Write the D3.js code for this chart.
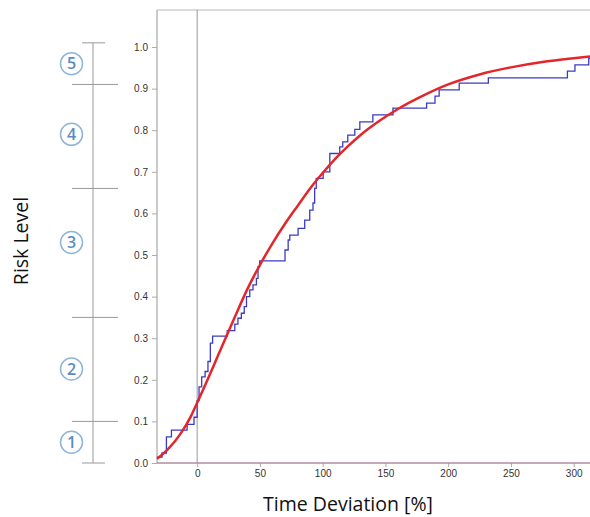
<!DOCTYPE html>
<html><head><meta charset="utf-8">
<script src="https://cdn.jsdelivr.net/npm/d3@7"></script>
<style>body{margin:0;background:#fff}svg{display:block}</style>
</head><body>
<svg id="c" width="590" height="517"></svg>
<script>
// Fitted curve (red)
const fitX = [-32,-24,-14,-5,0,5,10,15,20,30,40,50,60,70,80,90,100,110,120,130,145,160,180,200,225,250,275,300,313];
const fitY = [0.01,0.031,0.067,0.112,0.145,0.178,0.212,0.247,0.282,0.351,0.418,0.476,0.528,0.575,0.618,0.66,0.697,0.731,0.761,0.788,0.822,0.851,0.883,0.91,0.934,0.951,0.964,0.973,0.977];
// Empirical step function (blue)
const stepX = [-32,-28,-24.5,-20.5,-8,-2.5,0,1.5,3.6,6.3,8.6,10.5,12.3,24,30,32.5,35.2,37.5,39.3,41.9,44.5,47.2,48.5,49.8,70,72.5,73.8,80.4,85.7,89.7,92.3,93.6,94.9,100.4,105.7,113.6,116,120,125.6,129.6,140,156,182.8,189.5,192.8,208.8,232,295,301,312,320];
const stepY = [0.014,0.024,0.063,0.079,0.093,0.11,0.15,0.183,0.207,0.22,0.244,0.288,0.305,0.318,0.334,0.348,0.36,0.376,0.40,0.416,0.428,0.444,0.472,0.486,0.512,0.536,0.548,0.564,0.584,0.608,0.625,0.66,0.684,0.70,0.744,0.76,0.772,0.788,0.802,0.82,0.837,0.853,0.865,0.882,0.897,0.913,0.926,0.942,0.957,0.973,0.973];
const xTicks = [0,50,100,150,200,250,300];
const yTicks = [0,0.1,0.2,0.3,0.4,0.5,0.6,0.7,0.8,0.9,1.0];
// Risk level bracket
const levelBounds = [0.0,0.10,0.35,0.66,0.91,1.01];
const levelLabels = ["1","2","3","4","5"];
const levelCenters = [0.05,0.226,0.53,0.79,0.96];

const svg = d3.select("#c");
const x = d3.scaleLinear().domain([-32,313]).range([157,590]);
const y = d3.scaleLinear().domain([0,1]).range([463,47]);
const plotTop = 10, plotBottom = 463, plotLeft = 157;

// frame
svg.append("line").attr("x1",plotLeft).attr("x2",590).attr("y1",plotTop).attr("y2",plotTop).attr("stroke","#b8b8b8").attr("stroke-width",1.2);
svg.append("line").attr("x1",plotLeft).attr("x2",plotLeft).attr("y1",plotTop).attr("y2",plotBottom).attr("stroke","#b8b8b8").attr("stroke-width",1.5);

// y axis
const ya = svg.append("g").attr("transform",`translate(${plotLeft},0)`)
  .call(d3.axisLeft(y).tickValues(yTicks).tickFormat(d3.format(".1f")).tickSize(5).tickPadding(4));
ya.select(".domain").remove();
ya.selectAll(".tick line").attr("stroke","#aaa");
ya.selectAll(".tick text").attr("fill","#333").style("font-family","Liberation Sans, Arial, sans-serif").style("font-size","10px");

// x axis
const xa = svg.append("g").attr("transform",`translate(0,${plotBottom})`)
  .call(d3.axisBottom(x).tickValues(xTicks).tickSize(4).tickPadding(3));
xa.select(".domain").remove();
xa.selectAll(".tick line").attr("stroke","#aaa");
xa.selectAll(".tick text").attr("fill","#333").style("font-family","Liberation Sans, Arial, sans-serif").style("font-size","10px");

// zero reference line
svg.append("line").attr("x1",x(0)).attr("x2",x(0)).attr("y1",plotTop).attr("y2",plotBottom).attr("stroke","#999").attr("stroke-width",1);

// baseline
svg.append("line").attr("x1",plotLeft).attr("x2",590).attr("y1",y(0)).attr("y2",y(0)).attr("stroke","#b58aa3").attr("stroke-width",1.5);

// blue step
svg.append("path").datum(stepX.map((d,i)=>[d,stepY[i]]))
  .attr("d",d3.line().x(d=>x(d[0])).y(d=>y(d[1])).curve(d3.curveStepAfter))
  .attr("fill","none").attr("stroke","#3b3bc4").attr("stroke-width",1.3);

// red fit
svg.append("path").datum(fitX.map((d,i)=>[d,fitY[i]]))
  .attr("d",d3.line().x(d=>x(d[0])).y(d=>y(d[1])).curve(d3.curveMonotoneX))
  .attr("fill","none").attr("stroke","#e3262b").attr("stroke-width",2.5);

// risk bracket
const bx = 93;
svg.append("line").attr("x1",bx).attr("x2",bx).attr("y1",y(levelBounds[5])).attr("y2",y(levelBounds[0])).attr("stroke","#999");
levelBounds.forEach((b,i)=>{
  const end = (i===0||i===levelBounds.length-1);
  svg.append("line").attr("x1",end?82:72).attr("x2",end?105:118).attr("y1",y(b)).attr("y2",y(b)).attr("stroke","#999");
});
levelLabels.forEach((l,i)=>{
  const g = svg.append("g").attr("transform",`translate(71.5,${y(levelCenters[i])})`);
  g.append("circle").attr("r",11).attr("fill","#fff").attr("stroke","#8db6da").attr("stroke-width",1.5);
  g.append("text").attr("text-anchor","middle").attr("dy","0.36em").attr("fill","#5a8cbf")
    .style("font-family","Open Sans, sans-serif").style("font-size","16px").style("font-weight","600").text(l);
});

// titles
svg.append("text").attr("transform","translate(28,241) rotate(-90)").attr("text-anchor","middle")
  .style("font-family","Open Sans, sans-serif").style("font-size","19.5px").attr("fill","#111").text("Risk Level");
svg.append("text").attr("x",348).attr("y",511).attr("text-anchor","middle")
  .style("font-family","Open Sans, sans-serif").style("font-size","19.5px").attr("fill","#111").text("Time Deviation [%]");
</script>
</body></html>
